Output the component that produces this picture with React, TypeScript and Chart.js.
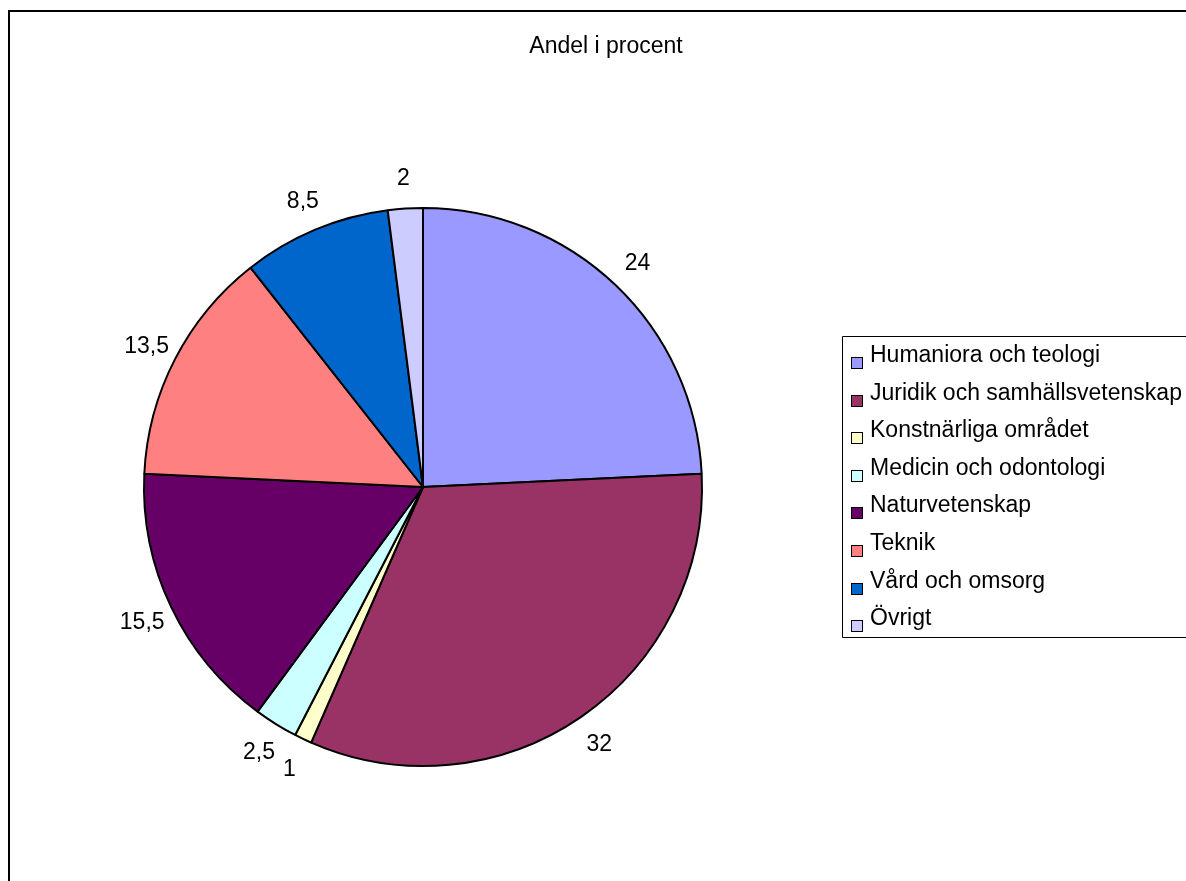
import React, { useEffect, useRef } from "react";
import { Chart, registerables } from "chart.js";

Chart.register(...registerables);

const TITLE = "Andel i procent";
const CATEGORIES = [
  "Humaniora och teologi",
  "Juridik och samhällsvetenskap",
  "Konstnärliga området",
  "Medicin och odontologi",
  "Naturvetenskap",
  "Teknik",
  "Vård och omsorg",
  "Övrigt",
];
const VALUES = [24, 32, 1, 2.5, 15.5, 13.5, 8.5, 2];
const COLORS = [
  "#9999FF",
  "#993366",
  "#FFFFCC",
  "#CCFFFF",
  "#660066",
  "#FF8080",
  "#0066CC",
  "#CCCCFF",
];

const FONT_FAMILY = '"Liberation Sans", Arial, sans-serif';
const FS = 23;

const overlayPlugin = {
  id: "overlay",
  afterDraw(chart: any) {
    const ctx = chart.ctx as CanvasRenderingContext2D;
    const font = `${FS}px ${FONT_FAMILY}`;
    ctx.save();
    ctx.font = font;
    ctx.fillStyle = "#000";

    // title
    ctx.textAlign = "center";
    ctx.textBaseline = "alphabetic";
    ctx.fillText(TITLE, 606, 53);

    // data labels
    const meta = chart.getDatasetMeta(0);
    const vals = chart.data.datasets[0].data as number[];
    meta.data.forEach((arc: any, i: number) => {
      const p = arc.getProps(["x", "y", "startAngle", "endAngle", "outerRadius"], true);
      const mid = (p.startAngle + p.endAngle) / 2;
      const dx = Math.cos(mid);
      const dy = Math.sin(mid);
      const txt = String(vals[i]).replace(".", ",");
      const h = FS * 0.716;
      const dist = p.outerRadius + 32;
      const cx = p.x + dx * dist;
      const cy = p.y + dy * dist;
      ctx.textAlign = "center";
      ctx.textBaseline = "alphabetic";
      ctx.fillText(txt, cx, cy + h / 2);
    });

    // legend
    const lx = 842.5;
    const ly = 336.5;
    ctx.strokeStyle = "#000";
    ctx.lineWidth = 1;
    ctx.beginPath();
    ctx.moveTo(1200, ly);
    ctx.lineTo(lx, ly);
    ctx.lineTo(lx, 637.5);
    ctx.lineTo(1200, 637.5);
    ctx.stroke();
    const labels = chart.data.labels as string[];
    const bg = chart.data.datasets[0].backgroundColor as string[];
    labels.forEach((lab, i) => {
      const base = 362 + i * 37.6;
      const my = Math.round(357 + i * 37.6) + 0.5;
      ctx.fillStyle = bg[i];
      ctx.fillRect(851.5, my, 11, 11);
      ctx.strokeStyle = "#000";
      ctx.lineWidth = 1;
      ctx.strokeRect(851.5, my, 11, 11);
      ctx.fillStyle = "#000";
      ctx.textAlign = "left";
      ctx.textBaseline = "alphabetic";
      ctx.fillText(lab, 870, base);
    });
    ctx.restore();
  },
};

export default function App() {
  const ref = useRef<HTMLCanvasElement | null>(null);
  useEffect(() => {
    if (!ref.current) return;
    const chart = new Chart(ref.current, {
      type: "pie",
      data: {
        labels: CATEGORIES,
        datasets: [
          {
            data: VALUES,
            backgroundColor: COLORS,
            borderColor: "#000",
            borderWidth: 2,
          },
        ],
      },
      options: {
        animation: false,
        responsive: false,
        devicePixelRatio: 1,
        layout: { padding: { left: 143, top: 207, right: 483, bottom: 114 } },
        plugins: {
          legend: { display: false },
          title: { display: false },
          tooltip: { enabled: false },
        },
      },
      plugins: [overlayPlugin],
    });
    return () => chart.destroy();
  }, []);

  return (
    <div
      style={{
        position: "fixed",
        left: 0,
        top: 0,
        width: 1186,
        height: 881,
        overflow: "hidden",
        background: "#fff",
      }}
    >
      <div
        style={{
          position: "absolute",
          left: 8,
          top: 10,
          width: 1400,
          height: 1100,
          borderTop: "2px solid #000",
          borderLeft: "2px solid #000",
        }}
      />
      <canvas
        ref={ref}
        width={1186}
        height={881}
        style={{ position: "absolute", left: 0, top: 0, width: 1186, height: 881 }}
      />
    </div>
  );
}
